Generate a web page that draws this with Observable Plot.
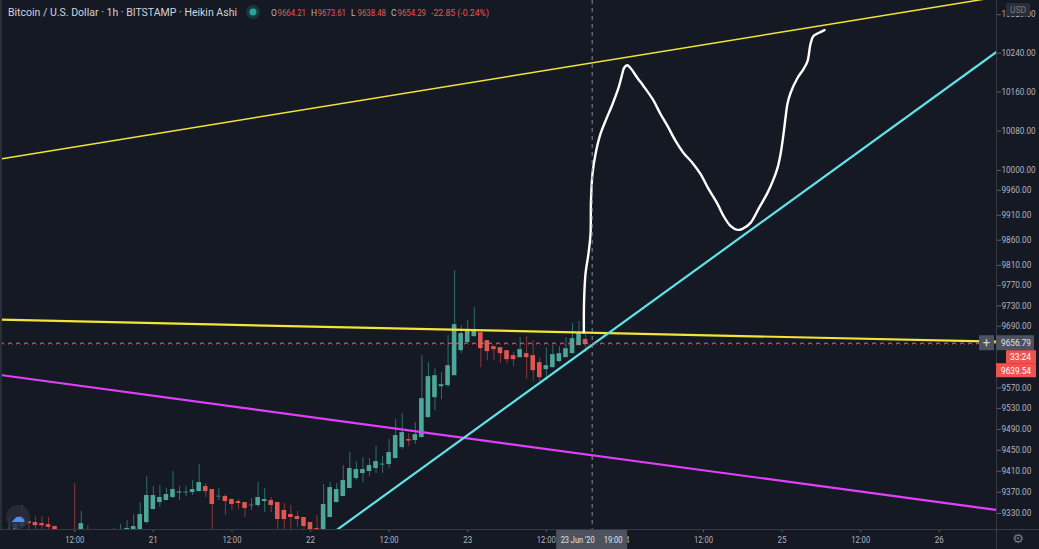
<!DOCTYPE html>
<html><head><meta charset="utf-8">
<script src="https://cdn.jsdelivr.net/npm/d3@7"></script>
<script src="https://cdn.jsdelivr.net/npm/@observablehq/plot@0.6"></script>
<style>
html,body{margin:0;padding:0;background:#151924;}
#chart{position:relative;width:1039px;height:549px;overflow:hidden}
</style></head><body><div id="chart"></div>
<script>
// Heikin Ashi hourly candles, first candle 2020-06-20 02:00 UTC, one per hour
const firstCandle = "2020-06-20T02:00:00Z";
const opens  = [9280,9294,9305.5,9315,9313,9311,9309,9305.5,9294,9284,9280,9289,9300,9295,9290,9284,9288,9290,9294,9288.5,9294,9313,9337.5,9350.7,9354.5,9360.2,9368.6,9369,9369.6,9371.5,9381,9375.3,9361.5,9362.1,9356.4,9352.6,9350.7,9344.5,9345.1,9352.6,9354.5,9350.7,9335.7,9328.1,9324.3,9322.5,9313,9301.7,9294.2,9322.5,9350.7,9362.1,9377.2,9396.2,9405.7,9409.5,9415.2,9422,9422.8,9434.2,9455.2,9470.5,9468.6,9474.3,9512.7,9551.1,9572.4,9574.3,9593.7,9642.3,9657.9,9669.6,9677.4,9661.8,9650.1,9648.2,9642.3,9632.6,9628.7,9636.5,9632.6,9618.9,9605.3,9609.2,9620.9,9628.7,9636.5,9652.1,9664.21];
const closes = [9300,9311,9322.5,9311,9307,9307,9304,9294,9284,9276,9272,9311,9290,9286,9282,9292,9296,9298,9302,9305.5,9328,9364,9364,9360.2,9365.9,9375.3,9370.6,9370.3,9375.3,9388.6,9371.5,9347,9362.6,9352.6,9347,9348.9,9339.4,9345.7,9360.2,9356.4,9345.1,9318.7,9318.7,9322.5,9318.7,9305.5,9298,9294.2,9347,9379.1,9375.3,9392.4,9415.2,9413.3,9413.3,9420.9,9428.5,9423.6,9445.7,9478.2,9483.9,9467.7,9480.1,9549.2,9591.8,9593.7,9576.2,9613.1,9693.1,9675.5,9681.3,9683.3,9646.2,9640.4,9644.3,9636.5,9624.8,9624.8,9644.3,9628.7,9603.4,9589.8,9613.1,9634.5,9636.5,9646.2,9665.7,9677.4,9654.29];
const highs  = [9324,9322,9345,9322.5,9324,9324,9322.5,9306,9296,9288,9386.7,9333.8,9307.4,9298,9294,9298,9302,9309.3,9316.8,9328,9350.7,9400,9381,9382.9,9377.2,9409.5,9381,9381,9392.4,9422.8,9386.7,9375.3,9377.2,9365.9,9358.3,9356.4,9350.7,9358.3,9388.6,9377.2,9360.2,9350.7,9348.9,9345.1,9333.8,9322.5,9313,9326.2,9384.8,9388.6,9386.7,9420.9,9445.7,9428.5,9436.1,9434.2,9457.1,9438,9470.5,9508.8,9520.3,9482,9503,9632.6,9618.9,9607.3,9599.5,9671.6,9799.5,9691.1,9700.9,9726.4,9677.4,9661.8,9650.1,9648.2,9642.3,9638.4,9667.7,9669.6,9661.8,9628.7,9648.2,9652.1,9650.1,9667.7,9695,9699,9673.61];
const lows   = [9275,9290,9302,9298,9298,9298,9296,9288,9278,9270,9265,9285,9284,9280,9276,9280,9284,9286,9290,9285,9290,9310,9337.5,9341.3,9354,9358.3,9354.5,9362,9364,9371,9360.2,9298,9354.5,9326.2,9335.7,9337.5,9322.5,9335.7,9341.3,9332,9332,9298,9298,9298,9303.6,9296,9290,9288,9290,9322,9350,9362,9377,9392.4,9388.6,9400,9405.7,9405.7,9415.2,9434,9451.4,9457.1,9461,9474,9512,9526.1,9547.2,9570.4,9593,9636.5,9657,9669,9609.2,9622.8,9622.8,9617,9617,9611.2,9628,9587,9582.1,9576.2,9584,9609,9618.9,9628,9636,9652,9638.48];

// Drawn trend lines (start / end in time and price)
const trendNames  = ["upper channel","lower resistance","support (magenta)","rising support (cyan)"];
const trendStartT = ["2020-06-20T00:40Z","2020-06-20T00:40Z","2020-06-20T00:40Z","2020-06-22T03:03Z"];
const trendStartP = [10023.4, 9702.8, 9595.0, 9290.5];
const trendEndT   = ["2020-06-26T08:44Z","2020-06-26T08:44Z","2020-06-26T08:44Z","2020-06-26T08:44Z"];
const trendEndP   = [10356.5, 9659.8, 9336.6, 10242.4];
const trendColors = ["#f2e537","#f2e537","#e040fb","#5fe3e6"];
const trendWidths = [1.5, 2.2, 2.2, 2.2];

// Freehand projection drawn in white
const sketchT = ["2020-06-23T17:44Z","2020-06-23T17:46Z","2020-06-23T17:59Z","2020-06-23T18:26Z","2020-06-23T18:45Z","2020-06-23T18:49Z","2020-06-23T19:03Z","2020-06-23T19:31Z","2020-06-23T20:16Z","2020-06-23T21:02Z","2020-06-23T22:07Z","2020-06-23T23:01Z","2020-06-23T23:38Z","2020-06-23T23:52Z","2020-06-24T00:21Z","2020-06-24T00:51Z","2020-06-24T01:55Z","2020-06-24T02:50Z","2020-06-24T04:13Z","2020-06-24T05:26Z","2020-06-24T06:30Z","2020-06-24T07:44Z","2020-06-24T08:57Z","2020-06-24T10:19Z","2020-06-24T11:32Z","2020-06-24T12:46Z","2020-06-24T14:08Z","2020-06-24T15:03Z","2020-06-24T16:07Z","2020-06-24T17:11Z","2020-06-24T17:57Z","2020-06-24T19:11Z","2020-06-24T20:24Z","2020-06-24T21:46Z","2020-06-24T22:41Z","2020-06-24T23:18Z","2020-06-24T23:46Z","2020-06-25T00:13Z","2020-06-25T00:31Z","2020-06-25T00:49Z","2020-06-25T01:17Z","2020-06-25T02:21Z","2020-06-25T03:16Z","2020-06-25T03:53Z","2020-06-25T04:20Z","2020-06-25T04:47Z","2020-06-25T05:34Z","2020-06-25T06:28Z"];
const sketchP = [9677.9,9740.1,9793.3,9833.0,9872.7,9938.8,9993.1,10033.5,10074.1,10100.6,10135.4,10168.2,10199.0,10209.3,10214.9,10209.3,10188.7,10172.3,10145.6,10114.9,10090.4,10060.0,10035.6,10015.3,9993.1,9962.9,9932.7,9908.7,9888.7,9880.7,9882.7,9894.7,9922.7,9954.8,9982.0,10005.2,10033.5,10074.1,10106.7,10135.4,10157.9,10188.7,10207.2,10223.7,10258.9,10275.5,10281.7,10287.9];

// Axis ticks
const yTicks = [9330,9370,9410,9450,9490,9530,9570,9690,9730,9770,9810,9860,9910,9960,10000,10080,10160,10240,10320];
const xTicks = ["2020-06-20T12:00Z","2020-06-21T00:00Z","2020-06-21T12:00Z","2020-06-22T00:00Z","2020-06-22T12:00Z","2020-06-23T00:00Z","2020-06-23T12:00Z","2020-06-24T00:00Z","2020-06-24T12:00Z","2020-06-25T00:00Z","2020-06-25T12:00Z","2020-06-26T00:00Z"];

// Header / crosshair values
const symbolTitle = "Bitcoin / U.S. Dollar · 1h · BITSTAMP · Heikin Ashi";
const ohlcKeys = ["O","H","L","C"];
const ohlcVals = ["9664.21","9673.61","9638.48","9654.29"];
const changeText = "-22.85 (-0.24%)";
const crossTime = "2020-06-23T19:00Z";
const crossPrice = 9656.79;
const lastClose = 9654.29;
const lastPriceLabel = 9639.54;
const countdown = "33:24";

const BG = "#151924";
const upBody = "#4da69a", upWick = "#2f6f68", dnBody = "#e0574f", dnWick = "#8c3634";

const t0 = Date.parse(firstCandle);
const candles = opens.map((o, i) => ({
  t: new Date(t0 + i * 3600e3), o, c: closes[i], h: highs[i], l: lows[i]
}));
const trends = trendNames.map((n, i) => ({
  n, t1: new Date(trendStartT[i]), p1: trendStartP[i], t2: new Date(trendEndT[i]), p2: trendEndP[i],
  color: trendColors[i], w: trendWidths[i]
}));
const sketch = sketchT.map((t, i) => ({t: new Date(t), p: sketchP[i]}));

const fmtX = d => d.getUTCHours() === 0 ? String(d.getUTCDate()) : d3.utcFormat("%H:%M")(d);

const plot = Plot.plot({
  width: 1039, height: 549,
  marginLeft: 0, marginRight: 43, marginTop: 0, marginBottom: 20,
  style: {background: BG, color: "#b2b5be", fontFamily: "Roboto, 'Open Sans', sans-serif", fontSize: "9px", overflow: "hidden"},
  color: {type: "identity"},
  x: {type: "utc", domain: [new Date("2020-06-20T00:40Z"), new Date("2020-06-26T08:44Z")]},
  y: {type: "log", domain: [9299.9, 10349.6]},
  marks: [
    Plot.ruleX(candles, {x: "t", y1: "l", y2: "h", stroke: d => d.c >= d.o ? upWick : dnWick, strokeWidth: 1, clip: true}),
    Plot.rect(candles, {
      x1: d => new Date(+d.t - 21 * 60e3), x2: d => new Date(+d.t + 21 * 60e3),
      y1: "o", y2: "c", fill: d => d.c >= d.o ? upBody : dnBody, clip: true
    }),
    Plot.link(trends, {x1: "t1", y1: "p1", x2: "t2", y2: "p2", stroke: "color", strokeWidth: "w", clip: true}),
    Plot.line(sketch, {x: "t", y: "p", stroke: "#ffffff", strokeWidth: 2.4, curve: "catmull-rom", clip: true}),
    Plot.ruleY([lastClose], {stroke: "#ef5350", strokeWidth: 1, strokeDasharray: "1,3", strokeOpacity: 0.5}),
    Plot.ruleY([crossPrice], {stroke: "#8a8d96", strokeWidth: 1, strokeDasharray: "4,4"}),
    Plot.ruleX([new Date(crossTime)], {stroke: "#8a8d96", strokeWidth: 1, strokeDasharray: "4,4"}),
    Plot.axisY({anchor: "right", ticks: yTicks, tickFormat: () => "", tickSize: 4, stroke: "#5d606b"}),
    Plot.text(yTicks, {y: d => d, text: d => d.toFixed(2), frameAnchor: "right", textAnchor: "start", dx: 5, fill: "#b2b5be", fontSize: 8.5}),
    Plot.axisX({ticks: xTicks.map(s => new Date(s)), tickFormat: fmtX, tickSize: 3, tickPadding: 4, stroke: "#5d606b", fill: "#b2b5be", fontSize: 8.5})
  ]
});

document.getElementById("chart").appendChild(plot);

const svg = d3.select(plot);
// narrow the axis labels to the reference's condensed width
svg.selectAll('g[aria-label="text"] text').each(function () {
  this.setAttribute("textLength", this.textContent.length * 4.25);
  this.setAttribute("lengthAdjust", "spacingAndGlyphs");
});
svg.selectAll('g[aria-label="x-axis tick label"] text').each(function () {
  this.setAttribute("textLength", this.textContent.length <= 2 ? 9 : 19);
  this.setAttribute("lengthAdjust", "spacingAndGlyphs");
});

// Overlays positioned with the plot's own scales
const xs = plot.scale("x"), ys = plot.scale("y");
const right = xs.range[1], bottom = ys.range[0];
const g = svg.append("g").attr("text-anchor", "start").attr("font-family", "Roboto, sans-serif");
const lab = (sel, w) => sel.attr("textLength", w).attr("lengthAdjust", "spacingAndGlyphs");

// borders
g.append("line").attr("x1", right + 0.5).attr("x2", right + 0.5).attr("y1", 0).attr("y2", 549).attr("stroke", "#363a45");
g.append("line").attr("x1", 0).attr("x2", 1039).attr("y1", bottom + 0.5).attr("y2", bottom + 0.5).attr("stroke", "#363a45");
g.append("rect").attr("x", 0).attr("y", 0).attr("width", 2).attr("height", bottom).attr("fill", "#2a2e39");

// header
lab(g.append("text").attr("x", 8).attr("y", 16).attr("fill", "#d1d4dc").attr("font-size", 10.5).text(symbolTitle), 229);
g.append("circle").attr("cx", 253).attr("cy", 12).attr("r", 7).attr("fill", "rgba(38,166,154,0.22)");
g.append("circle").attr("cx", 253).attr("cy", 12).attr("r", 3.5).attr("fill", "#26a69a");
ohlcKeys.forEach((k, i) => {
  const x0 = 271 + i * 40;
  g.append("text").attr("x", x0).attr("y", 16).attr("font-size", 8.5).attr("fill", "#b2b5be").text(k);
  lab(g.append("text").attr("x", x0 + 6.5).attr("y", 16).attr("font-size", 8.5).attr("fill", "#ef5350").text(ohlcVals[i]), 28.5);
});
lab(g.append("text").attr("x", 431).attr("y", 16).attr("font-size", 8.5).attr("fill", "#ef5350").text(changeText), 58);

// USD badge
g.append("rect").attr("x", right + 10).attr("y", 3).attr("width", 24).attr("height", 13).attr("rx", 2).attr("fill", "#2a2e39");
g.append("text").attr("x", right + 22).attr("y", 13).attr("text-anchor", "middle").attr("font-size", 8.5).attr("fill", "#787b86").text("USD");

// crosshair price label + "+" button
const cy = ys.apply(crossPrice);
g.append("rect").attr("x", right - 17).attr("y", cy - 7.5).attr("width", 15).attr("height", 15).attr("fill", "#4c525e");
g.append("text").attr("x", right - 9.5).attr("y", cy + 4.5).attr("text-anchor", "middle").attr("font-size", 13).attr("fill", "#d1d4dc").text("+");
g.append("rect").attr("x", right).attr("y", cy - 7.5).attr("width", 38).attr("height", 15).attr("fill", "#4c525e");
lab(g.append("text").attr("x", right + 5).attr("y", cy + 3.5).attr("font-size", 8.5).attr("fill", "#e0e3eb").text(crossPrice.toFixed(2)), 30);

// last price label (red), pushed below the crosshair label
g.append("rect").attr("x", right + 10).attr("y", cy + 7.5).attr("width", 30).attr("height", 13).attr("fill", "#ef5350");
lab(g.append("text").attr("x", right + 14).attr("y", cy + 17.5).attr("font-size", 8.5).attr("fill", "#ffffff").text(countdown), 21);
g.append("rect").attr("x", right).attr("y", cy + 20.5).attr("width", 40).attr("height", 14).attr("fill", "#ef5350");
lab(g.append("text").attr("x", right + 5).attr("y", cy + 31).attr("font-size", 8.5).attr("fill", "#ffffff").text(lastPriceLabel.toFixed(2)), 30);

// crosshair time label
const cx = xs.apply(new Date(crossTime));
g.append("rect").attr("x", cx - 35.5).attr("y", bottom + 1).attr("width", 71).attr("height", 20).attr("fill", "#4c525e");
lab(g.append("text").attr("x", cx - 31).attr("y", bottom + 14).attr("font-size", 8.5).attr("fill", "#e0e3eb").text("23 Jun '20"), 34);
lab(g.append("text").attr("x", cx + 12).attr("y", bottom + 14).attr("font-size", 8.5).attr("fill", "#e0e3eb").text("19:00"), 19);

// logo and gear
g.append("circle").attr("cx", 18).attr("cy", 517).attr("r", 12).attr("fill", "#2a2e39").attr("opacity", 0.85);
g.append("text").attr("x", 18).attr("y", 522).attr("text-anchor", "middle").attr("font-size", 15).attr("fill", "#4c8ff5").attr("font-family", "DejaVu Sans").text("☁");
g.append("text").attr("x", right + 22).attr("y", 543).attr("text-anchor", "middle").attr("font-size", 13).attr("fill", "#787b86").attr("font-family", "DejaVu Sans").text("⚙");
</script>
</body></html>
